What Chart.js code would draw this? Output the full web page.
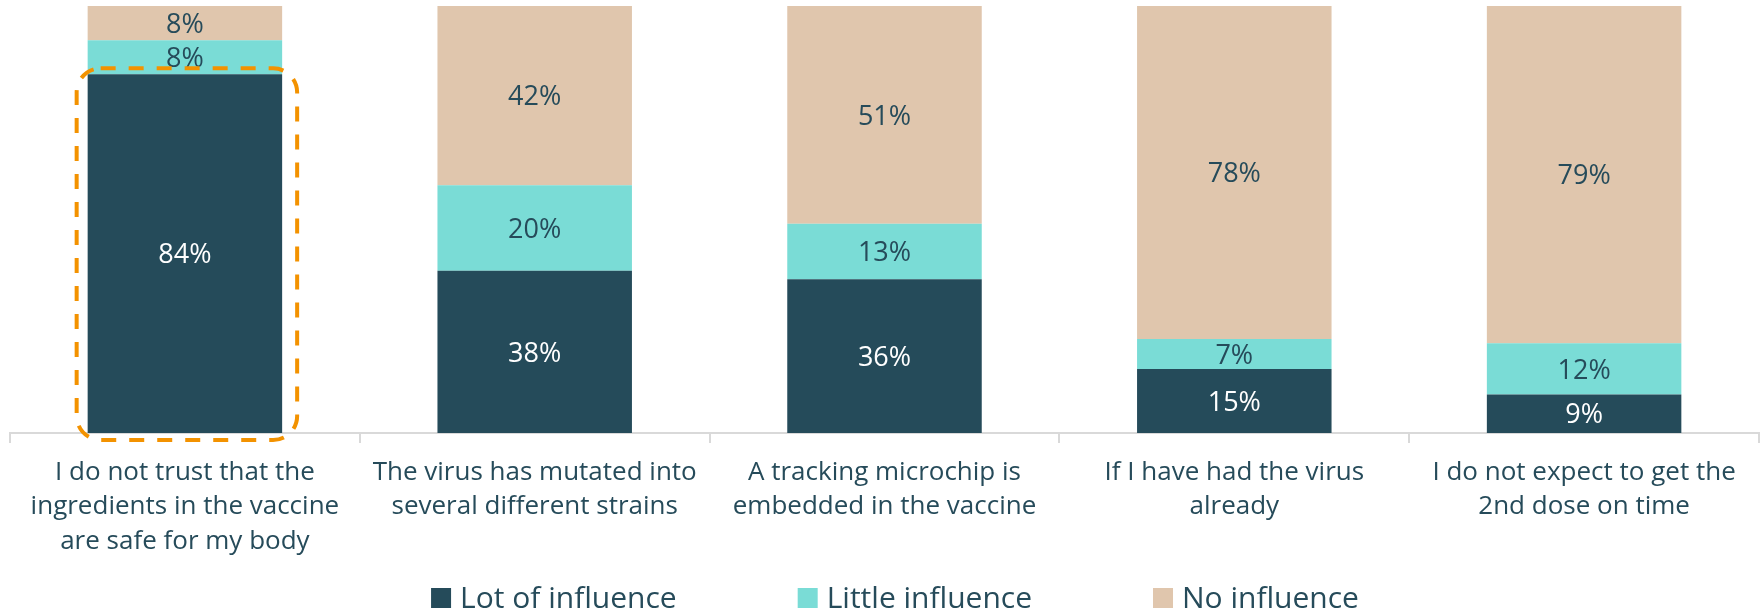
<!DOCTYPE html>
<html>
<head>
<meta charset="utf-8">
<script src="https://cdn.jsdelivr.net/npm/chart.js@4/dist/chart.umd.min.js"></script>
<style>
  html, body { margin: 0; padding: 0; background: #ffffff; }
  #wrap { width: 1764px; height: 612px; }
</style>
</head>
<body>
<div id="wrap"><canvas id="c" width="1764" height="612"></canvas></div>
<script>
// Reasons for vaccine hesitancy and how much each one influences the decision
const categories = [
  ["I do not trust that the", "ingredients in the vaccine", "are safe for my body"],
  ["The virus has mutated into", "several different strains"],
  ["A tracking microchip is", "embedded in the vaccine"],
  ["If I have had the virus", "already"],
  ["I do not expect to get the", "2nd dose on time"]
];
const seriesNames = ["Lot of influence", "Little influence", "No influence"];
const lotOfInfluence = [84, 38, 36, 15, 9];
const littleInfluence = [8, 20, 13, 7, 12];
const noInfluence = [8, 42, 51, 78, 79];

const COLORS = ["#254B5A", "#7ADCD6", "#E0C6AD"];
const TEXT = "#264B5A";
const FONT = "'Open Sans', 'Noto Sans', sans-serif";

// Percent labels centred inside each stacked segment
const segmentLabels = {
  id: 'segmentLabels',
  afterDatasetsDraw(chart, args, opts) {
    const ctx = chart.ctx;
    ctx.save();
    ctx.font = opts.size + 'px ' + FONT;
    ctx.textAlign = 'center';
    ctx.textBaseline = 'alphabetic';
    chart.data.datasets.forEach((ds, di) => {
      const meta = chart.getDatasetMeta(di);
      meta.data.forEach((bar, i) => {
        const p = bar.getProps(['x', 'y', 'base'], true);
        const cy = (p.y + p.base) / 2;
        ctx.fillStyle = di === 0 ? '#FFFFFF' : TEXT;
        ctx.fillText(ds.data[i] + '%', p.x, cy + opts.size * 0.714 / 2);
      });
    });
    ctx.restore();
  }
};

// Dashed orange frame highlighting the first "Lot of influence" bar
const highlightFrame = {
  id: 'highlightFrame',
  afterDatasetsDraw(chart, args, opts) {
    const bar = chart.getDatasetMeta(0).data[opts.index];
    if (!bar) return;
    const p = bar.getProps(['x', 'y', 'base', 'width'], true);
    const left = p.x - p.width / 2 - 11;
    const right = p.x + p.width / 2 + 15;
    const top = p.y - 6;
    const bottom = p.base + 7;
    const ctx = chart.ctx;
    ctx.save();
    ctx.strokeStyle = opts.color;
    ctx.lineWidth = 4;
    ctx.setLineDash([15, 13]);
    ctx.beginPath();
    ctx.roundRect(left, top, right - left, bottom - top, 24);
    ctx.stroke();
    ctx.restore();
  }
};

// Legend row under the category labels
const bottomLegend = {
  id: 'bottomLegend',
  afterDraw(chart, args, opts) {
    const ctx = chart.ctx;
    ctx.save();
    ctx.font = opts.size + 'px ' + FONT;
    const items = chart.data.datasets.map(d => ({
      text: d.label, color: d.backgroundColor, w: ctx.measureText(d.label).width
    }));
    const total = items.reduce((s, it) => s + opts.box + opts.textGap + it.w, 0)
      + opts.itemGap * (items.length - 1);
    let x = chart.width / 2 + opts.shift - total / 2;
    ctx.textBaseline = 'alphabetic';
    ctx.textAlign = 'left';
    items.forEach(it => {
      ctx.fillStyle = it.color;
      ctx.fillRect(x, opts.baseline - opts.box, opts.box, opts.box);
      x += opts.box + opts.textGap;
      ctx.fillStyle = TEXT;
      ctx.fillText(it.text, x, opts.baseline);
      x += it.w + opts.itemGap;
    });
    ctx.restore();
  }
};

new Chart(document.getElementById('c'), {
  type: 'bar',
  data: {
    labels: categories,
    datasets: [
      { label: seriesNames[0], data: lotOfInfluence, backgroundColor: COLORS[0] },
      { label: seriesNames[1], data: littleInfluence, backgroundColor: COLORS[1] },
      { label: seriesNames[2], data: noInfluence, backgroundColor: COLORS[2] }
    ]
  },
  options: {
    responsive: false,
    animation: false,
    devicePixelRatio: 1,
    layout: { padding: { top: 6, left: 10, right: 5, bottom: 0 } },
    datasets: { bar: { categoryPercentage: 1, barPercentage: 0.556, borderWidth: 0 } },
    scales: {
      x: {
        stacked: true,
        grid: {
          display: true, offset: true, drawOnChartArea: false, drawTicks: true,
          tickLength: 10, color: '#D9D9D9', lineWidth: 2
        },
        border: { display: true, color: '#D9D9D9', width: 2 },
        ticks: {
          color: TEXT, padding: 13, maxRotation: 0, autoSkip: false,
          font: { family: FONT, size: 26, lineHeight: 1.31 }
        },
        afterFit(scale) { scale.height = 179; }
      },
      y: { stacked: true, display: false, min: 0, max: 100 }
    },
    plugins: {
      legend: { display: false },
      tooltip: { enabled: false },
      segmentLabels: { size: 27 },
      highlightFrame: { index: 0, color: '#F39200' },
      bottomLegend: { size: 30, box: 20, textGap: 9, itemGap: 121, baseline: 608, shift: 13 }
    }
  },
  plugins: [segmentLabels, highlightFrame, bottomLegend]
});
</script>
</body>
</html>
